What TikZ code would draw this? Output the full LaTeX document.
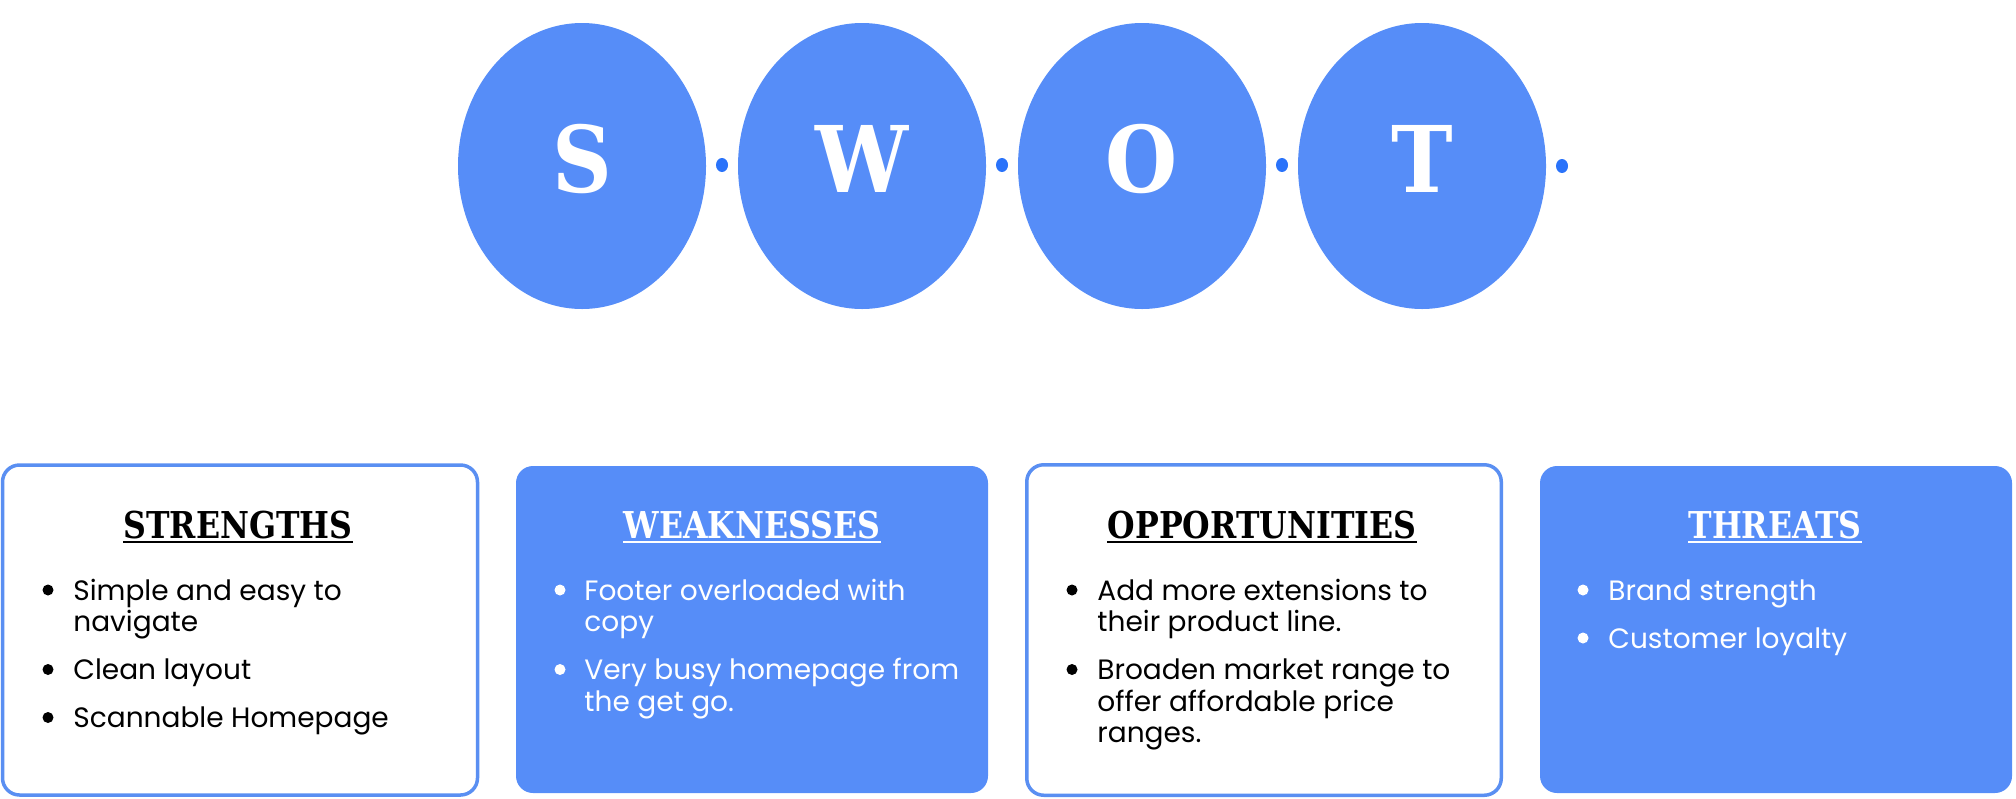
\documentclass[tikz,border=0pt]{standalone}
\usepackage{fontspec}
\usetikzlibrary{shapes.geometric}
\newfontfamily\popp{Poppins}
\newfontfamily\letfont{DejaVu Serif}[FakeStretch=0.9]
\newfontfamily\ttlfont{DejaVu Serif}[FakeStretch=0.855]
\definecolor{sblue}{HTML}{568DF8}
\definecolor{dblue}{HTML}{2A73FA}
\definecolor{bord}{HTML}{5A8FF2}
\tikzset{
  big/.style={ellipse, fill=sblue, minimum width=124pt, minimum height=143pt, inner sep=0},
  dotn/.style={ellipse, fill=dblue, minimum width=6pt, minimum height=7pt, inner sep=0},
  letter/.style={anchor=base, inner sep=0, text=white, font=\letfont\bfseries\fontsize{46}{46}\selectfont},
  wbox/.style={rectangle, rounded corners=8.5pt, draw=bord, line width=1.75pt, fill=white, inner sep=0},
  bbox/.style={rectangle, rounded corners=8.5pt, fill=sblue, inner sep=0},
  ttl/.style={anchor=base, inner sep=0, font=\ttlfont\bfseries\fontsize{18.5}{18.5}\selectfont},
  body/.style={anchor=base west, inner sep=0, font=\popp\fontsize{14}{15.5}\selectfont},
  bul/.style={circle, minimum size=5.5pt, inner sep=0},
  uline/.style={line width=1pt}
}
\begin{document}
\begin{tikzpicture}[x=0.5pt,y=-0.5pt]
\useasboundingbox (0,0) rectangle (2016,798);
% big ellipses
\node[big] (eS) at (582,166) {};
\node[big] (eW) at (862,166) {};
\node[big] (eO) at (1142,166) {};
\node[big] (eT) at (1422,166) {};
\node[letter] (lS) at (582,192) {S};
\node[letter] (lW) at (862,192) {W};
\node[letter] (lO) at (1142,192) {O};
\node[letter] (lT) at (1422,192) {T};
% dots
\node[dotn] (d1) at (722,165) {};
\node[dotn] (d2) at (1002,165) {};
\node[dotn] (d3) at (1282,165) {};
\node[dotn] (d4) at (1562,166) {};
% boxes
\node[wbox, minimum width=237.5pt, minimum height=165pt] (b1) at (240,630) {};
\node[bbox, minimum width=236pt, minimum height=163.5pt] (b2) at (752,629.5) {};
\node[wbox, minimum width=237.25pt, minimum height=165.25pt] (b3) at (1264,630) {};
\node[bbox, minimum width=236pt, minimum height=163.5pt] (b4) at (1776,629.5) {};
% titles
\node[ttl, text=black] (t1) at (238,538) {STRENGTHS};
\node[ttl, text=white] (t2) at (752,538) {WEAKNESSES};
\node[ttl, text=black] (t3) at (1262,538) {OPPORTUNITIES};
\node[ttl, text=white] (t4) at (1775,538) {THREATS};
\draw[uline, black] ([yshift=-1.75pt]t1.base west) -- ([yshift=-1.75pt]t1.base east);
\draw[uline, white] ([yshift=-1.75pt]t2.base west) -- ([yshift=-1.75pt]t2.base east);
\draw[uline, black] ([yshift=-1.75pt]t3.base west) -- ([yshift=-1.75pt]t3.base east);
\draw[uline, white] ([yshift=-1.75pt]t4.base west) -- ([yshift=-1.75pt]t4.base east);
% strengths
\node[bul, fill=black] (sb1) at (48,590) {};
\node[bul, fill=black] (sb2) at (48,669.5) {};
\node[bul, fill=black] (sb3) at (48,717.5) {};
\node[body, text=black] (s1a) at (73,600) {Simple and easy to};
\node[body, text=black] (s1b) at (73,631.5) {navigate};
\node[body, text=black] (s2) at (73,679.5) {Clean layout};
\node[body, text=black] (s3) at (73,727.5) {Scannable Homepage};
% weaknesses
\node[bul, fill=white] (wb1) at (560,590) {};
\node[bul, fill=white] (wb2) at (560,669.5) {};
\node[body, text=white] (w1a) at (584,600) {Footer overloaded with};
\node[body, text=white] (w1b) at (584,631.5) {copy};
\node[body, text=white] (w2a) at (584,679.5) {Very busy homepage from};
\node[body, text=white] (w2b) at (584,711) {the get go.};
% opportunities
\node[bul, fill=black] (ob1) at (1072,590) {};
\node[bul, fill=black] (ob2) at (1072,669.5) {};
\node[body, text=black] (o1a) at (1097,600) {Add more extensions to};
\node[body, text=black] (o1b) at (1097,631.5) {their product line.};
\node[body, text=black] (o2a) at (1097,679.5) {Broaden market range to};
\node[body, text=black] (o2b) at (1097,711) {offer affordable price};
\node[body, text=black] (o2c) at (1097,742.5) {ranges.};
% threats
\node[bul, fill=white] (tb1) at (1583,590) {};
\node[bul, fill=white] (tb2) at (1583,638) {};
\node[body, text=white] (th1) at (1608,600) {Brand strength};
\node[body, text=white] (th2) at (1608,648) {Customer loyalty};
\end{tikzpicture}
\end{document}
